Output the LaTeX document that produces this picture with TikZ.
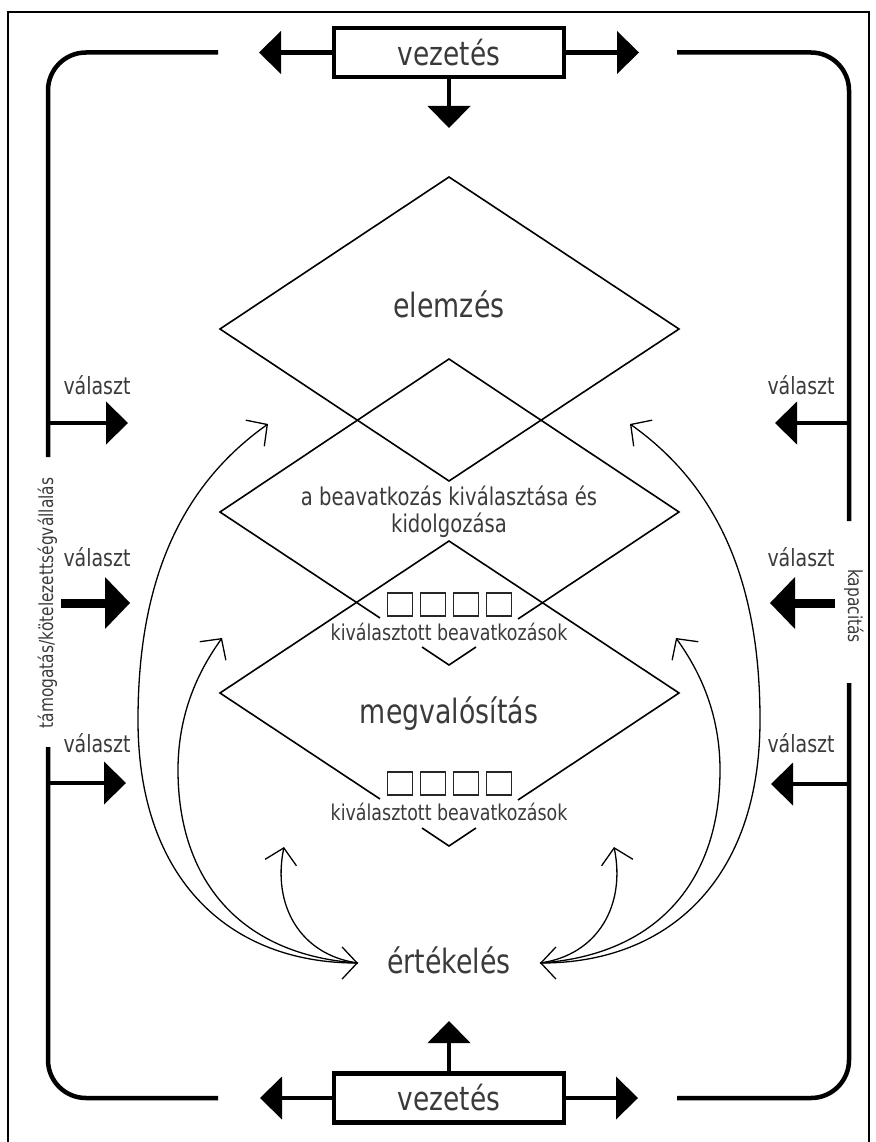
\documentclass[tikz,border=0pt]{standalone}
\usepackage{fontspec}
\setmainfont{DejaVu Sans}[FakeStretch=0.8]
\usetikzlibrary{arrows.meta}
\definecolor{ink}{HTML}{3A3A3A}

\begin{document}
\begin{tikzpicture}[x=1pt,y=-1pt,
  frame/.style={line width=2.2pt},
  bracket/.style={line width=4.5pt, rounded corners=38pt},
  fatarrow/.style={line width=4.5pt, -{Triangle[length=22pt,width=43pt,line width=0pt]}},
  heavyarrow/.style={line width=9pt, -{Triangle[length=25pt,width=52pt,line width=0pt]}},
  stagebox/.style={draw, line width=4.5pt, minimum width=230pt, minimum height=49pt,
    inner sep=0pt, font=\fontsize{33}{36}\selectfont, text=ink},
  bigtext/.style={font=\fontsize{33.5}{38}\selectfont, text=ink, inner sep=0pt, anchor=base},
  midtext/.style={font=\fontsize{24.5}{28}\selectfont, text=ink, inner sep=0pt, anchor=base},
  smalltext/.style={font=\fontsize{21.8}{25}\selectfont, text=ink, inner sep=0pt, anchor=base},
  choicetext/.style={font=\fontsize{23.7}{27}\selectfont, text=ink, inner sep=0pt, anchor=base},
  sidetext/.style={font=\fontsize{19.3}{22}\selectfont, text=ink, inner sep=0pt, anchor=base},
  dline/.style={line width=1.6pt, line join=miter},
  sq/.style={draw=black!85, line width=1.6pt, minimum width=25pt, minimum height=23pt, inner sep=0pt},
  fbline/.style={line width=1.3pt},
  Fb/.tip={Straight Barb[length=15pt,width=32pt]}
]
\useasboundingbox (0,0) rectangle (875,1142);

% outer frame
\draw[frame] (8,1142) -- (8,12) -- (869,12) -- (869,1142);

% leadership boxes
\node[stagebox] (vezTop) at (449,52.5) {vezetés};
\node[stagebox] (vezBot) at (449,1098) {vezetés};

\coordinate (topL) at (259,52.5);
\coordinate (topR) at (639,52.5);
\coordinate (topD) at (449,128);
\coordinate (botL) at (260,1098);
\coordinate (botR) at (638,1098);
\coordinate (botU) at (449,1021);
\draw[fatarrow] (vezTop.west) -- (topL);
\draw[fatarrow] (vezTop.east) -- (topR);
\draw[fatarrow] (vezTop.south) -- (topD);
\draw[fatarrow] (vezBot.west) -- (botL);
\draw[fatarrow] (vezBot.east) -- (botR);
\draw[fatarrow] (vezBot.north) -- (botU);

% rounded side brackets
\coordinate (bTL) at (218,52.5);
\coordinate (bTR) at (677,52.5);
\coordinate (bBL) at (218,1098);
\coordinate (bBR) at (677,1098);
\coordinate (lTop) at (48,457);
\coordinate (lBot) at (48,747);
\coordinate (rTop) at (849,521);
\coordinate (rBot) at (849,683);
\draw[bracket] (bTL) -| (lTop);
\draw[bracket] (lBot) |- (bBL);
\draw[bracket] (bTR) -| (rTop);
\draw[bracket] (rBot) |- (bBR);

% side arrows
\coordinate (lA1) at (48,423);   \coordinate (lT1) at (128,423);
\coordinate (lA2) at (61,603);   \coordinate (lT2) at (130,603);
\coordinate (lA3) at (48,783);   \coordinate (lT3) at (126,783);
\coordinate (rA1) at (849,423);  \coordinate (rT1) at (775,423);
\coordinate (rA2) at (835,603);  \coordinate (rT2) at (770,603);
\coordinate (rA3) at (849,784);  \coordinate (rT3) at (771,784);
\draw[fatarrow] (lA1) -- (lT1);
\draw[heavyarrow] (lA2) -- (lT2);
\draw[fatarrow] (lA3) -- (lT3);
\draw[fatarrow] (rA1) -- (rT1);
\draw[heavyarrow] (rA2) -- (rT2);
\draw[fatarrow] (rA3) -- (rT3);

\node[choicetext] (valL1) at (97,394) {választ};
\node[choicetext] (valL2) at (97,566) {választ};
\node[choicetext] (valL3) at (97,752) {választ};
\node[choicetext] (valR1) at (801,394) {választ};
\node[choicetext] (valR2) at (801,566) {választ};
\node[choicetext] (valR3) at (801,752) {választ};

\node[sidetext, rotate=90] (tamog) at (53,603) {támogatás/kötelezettségvállalás};
\node[sidetext, rotate=-90] (kapac) at (848,606) {kapacitás};

% analysis diamond
\draw[dline] (449,177) -- (679,329) -- (449,481) -- (220,329) -- cycle;
\node[bigtext] (elemzes) at (449,317) {elemzés};

% selection diamond
\draw[dline] (380,618) -- (220,512) -- (449,359) -- (679,512) -- (518,619);
\draw[dline] (422,647) -- (449,665) -- (476,647);
\node[midtext] (beav1) at (449,505) {a beavatkozás kiválasztása és};
\node[midtext] (beav2) at (449,532) {kidolgozása};
\foreach \i/\x in {1/400,2/433,3/466,4/499}
  \node[sq] (qa\i) at (\x,604.5) {};
\node[smalltext] (kiv1) at (449,640) {kiválasztott beavatkozások};

% implementation diamond
\draw[dline] (380,799) -- (220,693) -- (449,541) -- (679,693) -- (518,800);
\draw[dline] (422,828) -- (449,846) -- (476,828);
\node[bigtext] (megval) at (449,723) {megvalósítás};
\foreach \i/\x in {1/400,2/433,3/466,4/499}
  \node[sq] (qb\i) at (\x,783.5) {};
\node[smalltext] (kiv2) at (449,820) {kiválasztott beavatkozások};

% evaluation and feedback loops
\node[bigtext] (ertek) at (449,973) {értékelés};
\coordinate (eL) at (358,963);
\coordinate (eR) at (540,963);
\coordinate (aL1) at (268,424);
\coordinate (aL2) at (222,638);
\coordinate (aL3) at (284,847);
\coordinate (aR1) at (630,424);
\coordinate (aR2) at (676,638);
\coordinate (aR3) at (614,847);

\draw[fbline, Fb-Fb] (aL1) .. controls (175,490) and (138,590) .. (138,720)
  .. controls (138,880) and (230,963) .. (eL);
\draw[fbline, Fb-] (aL2) .. controls (205,662) and (178,705) .. (178,770)
  .. controls (178,880) and (240,955) .. (eL);
\draw[fbline, Fb-] (aL3) .. controls (272,905) and (300,955) .. (eL);

\draw[fbline, Fb-Fb] (aR1) .. controls (723,490) and (760,590) .. (760,720)
  .. controls (760,880) and (668,963) .. (eR);
\draw[fbline, Fb-] (aR2) .. controls (693,662) and (720,705) .. (720,770)
  .. controls (720,880) and (658,955) .. (eR);
\draw[fbline, Fb-] (aR3) .. controls (626,905) and (598,955) .. (eR);
\end{tikzpicture}
\end{document}
